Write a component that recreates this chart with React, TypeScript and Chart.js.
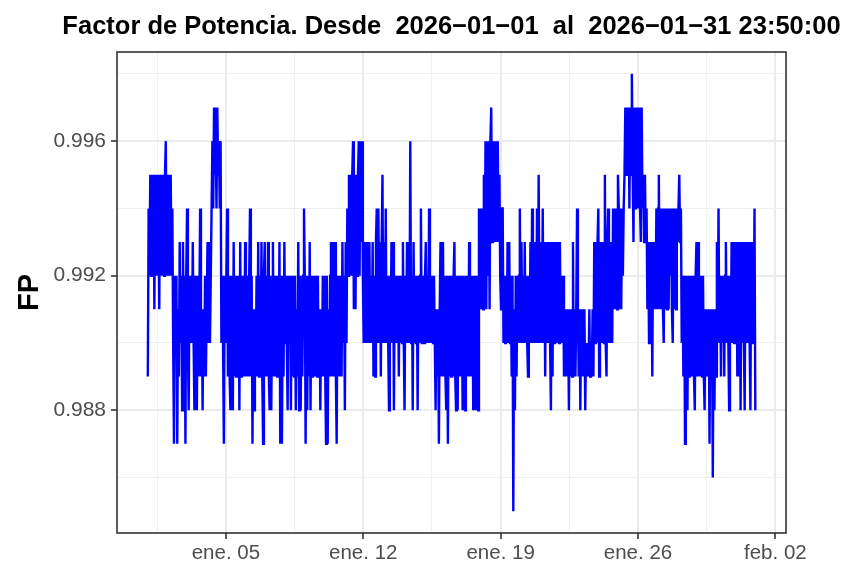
import React, { useEffect, useRef } from "react";
import { Chart, registerables } from "chart.js";

Chart.register(...registerables);

const titleText = "Factor de Potencia. Desde  2026\u221201\u221201  al  2026\u221201\u221231 23:50:00";
const yAxisTitle = "FP";
const rangeStart = "2026-01-01T00:00:00Z";
const rangeEnd = "2026-01-31T23:50:00Z";

// one sample per hour, taken at minute 30 (UTC)
const samplesPerDay = 24;
const sampleMinute = 30;

// FP values, 24 hourly samples per day (one row per day)
const week1 = [
  0.989, 0.994, 0.992, 0.995, 0.992, 0.995, 0.993, 0.995, 0.991, 0.995, 0.992, 0.994, 0.992, 0.995, 0.991, 0.995, 0.992, 0.995, 0.992, 0.995, 0.992, 0.995, 0.996, 0.992,
  0.995, 0.992, 0.995, 0.992, 0.995, 0.992, 0.994, 0.990, 0.987, 0.992, 0.990, 0.992, 0.987, 0.991, 0.989, 0.993, 0.990, 0.992, 0.988, 0.993, 0.990, 0.992, 0.987, 0.992,
  0.994, 0.990, 0.988, 0.992, 0.990, 0.992, 0.990, 0.993, 0.990, 0.988, 0.992, 0.990, 0.988, 0.992, 0.989, 0.991, 0.994, 0.989, 0.991, 0.988, 0.991, 0.989, 0.992, 0.989,
  0.991, 0.993, 0.990, 0.993, 0.990, 0.992, 0.994, 0.996, 0.994, 0.997, 0.995, 0.996, 0.994, 0.997, 0.995, 0.996, 0.994, 0.996, 0.990, 0.992, 0.990, 0.987, 0.992, 0.990,
  0.992, 0.994, 0.989, 0.992, 0.989, 0.988, 0.992, 0.989, 0.988, 0.993, 0.989, 0.992, 0.989, 0.992, 0.989, 0.992, 0.988, 0.993, 0.989, 0.992, 0.989, 0.992, 0.989, 0.993,
  0.992, 0.989, 0.992, 0.989, 0.992, 0.994, 0.989, 0.992, 0.987, 0.991, 0.988, 0.991, 0.989, 0.992, 0.989, 0.993, 0.989, 0.992, 0.989, 0.993, 0.989, 0.987, 0.992, 0.993,
  0.989, 0.992, 0.989, 0.993, 0.989, 0.988, 0.992, 0.988, 0.991, 0.993, 0.989, 0.992, 0.989, 0.992, 0.989, 0.992, 0.989, 0.993, 0.987, 0.992, 0.987, 0.991, 0.989, 0.993,
];
const week2 = [
  0.990, 0.992, 0.990, 0.988, 0.992, 0.990, 0.992, 0.988, 0.992, 0.989, 0.992, 0.989, 0.992, 0.988, 0.991, 0.989, 0.993, 0.988, 0.992, 0.988, 0.992, 0.989, 0.992, 0.994,
  0.992, 0.987, 0.992, 0.988, 0.992, 0.989, 0.993, 0.988, 0.992, 0.989, 0.992, 0.989, 0.992, 0.989, 0.992, 0.989, 0.992, 0.989, 0.991, 0.988, 0.991, 0.989, 0.992, 0.989,
  0.992, 0.989, 0.987, 0.992, 0.987, 0.991, 0.989, 0.992, 0.993, 0.989, 0.993, 0.989, 0.992, 0.993, 0.989, 0.987, 0.992, 0.989, 0.992, 0.989, 0.992, 0.989, 0.993, 0.990,
  0.992, 0.988, 0.993, 0.990, 0.994, 0.992, 0.995, 0.992, 0.995, 0.992, 0.995, 0.996, 0.991, 0.995, 0.991, 0.995, 0.992, 0.995, 0.996, 0.992, 0.996, 0.993, 0.996, 0.992,
  0.990, 0.993, 0.990, 0.993, 0.990, 0.992, 0.990, 0.993, 0.990, 0.992, 0.990, 0.993, 0.989, 0.992, 0.989, 0.993, 0.994, 0.990, 0.994, 0.990, 0.993, 0.989, 0.993, 0.995,
  0.990, 0.993, 0.990, 0.994, 0.990, 0.992, 0.990, 0.988, 0.992, 0.990, 0.993, 0.990, 0.993, 0.988, 0.992, 0.990, 0.992, 0.990, 0.992, 0.989, 0.992, 0.990, 0.992, 0.990,
  0.993, 0.990, 0.988, 0.992, 0.990, 0.993, 0.990, 0.992, 0.990, 0.996, 0.990, 0.992, 0.988, 0.993, 0.990, 0.992, 0.990, 0.992, 0.988, 0.992, 0.990, 0.992, 0.994, 0.990,
];
const week3 = [
  0.990, 0.992, 0.990, 0.992, 0.993, 0.990, 0.992, 0.990, 0.994, 0.990, 0.992, 0.990, 0.992, 0.990, 0.992, 0.990, 0.988, 0.991, 0.989, 0.991, 0.987, 0.991, 0.993, 0.989,
  0.991, 0.993, 0.989, 0.992, 0.989, 0.988, 0.992, 0.987, 0.992, 0.989, 0.992, 0.989, 0.992, 0.989, 0.992, 0.993, 0.989, 0.988, 0.992, 0.988, 0.992, 0.989, 0.992, 0.989,
  0.992, 0.988, 0.992, 0.989, 0.988, 0.992, 0.989, 0.992, 0.989, 0.993, 0.989, 0.992, 0.989, 0.992, 0.988, 0.992, 0.989, 0.988, 0.992, 0.989, 0.988, 0.994, 0.991, 0.994,
  0.991, 0.994, 0.991, 0.995, 0.992, 0.996, 0.991, 0.996, 0.992, 0.996, 0.991, 0.996, 0.997, 0.993, 0.996, 0.993, 0.996, 0.993, 0.996, 0.993, 0.996, 0.993, 0.995, 0.992,
  0.991, 0.994, 0.994, 0.990, 0.992, 0.990, 0.992, 0.990, 0.993, 0.990, 0.993, 0.990, 0.992, 0.989, 0.992, 0.985, 0.991, 0.988, 0.992, 0.989, 0.992, 0.990, 0.992, 0.994,
  0.990, 0.993, 0.990, 0.992, 0.990, 0.993, 0.990, 0.992, 0.990, 0.989, 0.992, 0.990, 0.993, 0.990, 0.994, 0.990, 0.992, 0.990, 0.993, 0.990, 0.994, 0.990, 0.995, 0.991,
  0.990, 0.993, 0.990, 0.994, 0.990, 0.993, 0.989, 0.993, 0.990, 0.993, 0.990, 0.993, 0.990, 0.988, 0.993, 0.989, 0.993, 0.990, 0.993, 0.990, 0.993, 0.990, 0.993, 0.990,
];
const week4 = [
  0.993, 0.990, 0.992, 0.990, 0.992, 0.989, 0.991, 0.989, 0.991, 0.989, 0.991, 0.988, 0.991, 0.989, 0.991, 0.989, 0.993, 0.989, 0.991, 0.989, 0.991, 0.994, 0.991, 0.989,
  0.991, 0.988, 0.991, 0.989, 0.991, 0.989, 0.991, 0.988, 0.990, 0.989, 0.990, 0.989, 0.991, 0.989, 0.990, 0.989, 0.991, 0.989, 0.993, 0.990, 0.993, 0.990, 0.993, 0.994,
  0.989, 0.993, 0.990, 0.993, 0.990, 0.993, 0.990, 0.995, 0.990, 0.989, 0.993, 0.994, 0.990, 0.993, 0.990, 0.993, 0.990, 0.994, 0.991, 0.993, 0.991, 0.994, 0.991, 0.995,
  0.994, 0.991, 0.994, 0.991, 0.994, 0.992, 0.994, 0.995, 0.997, 0.995, 0.997, 0.995, 0.997, 0.994, 0.997, 0.995, 0.998, 0.995, 0.993, 0.997, 0.994, 0.997, 0.994, 0.997,
  0.994, 0.997, 0.994, 0.993, 0.997, 0.994, 0.995, 0.993, 0.995, 0.993, 0.994, 0.991, 0.993, 0.990, 0.993, 0.991, 0.993, 0.989, 0.993, 0.991, 0.993, 0.991, 0.994, 0.991,
  0.994, 0.995, 0.991, 0.994, 0.991, 0.994, 0.991, 0.990, 0.994, 0.991, 0.994, 0.991, 0.994, 0.991, 0.994, 0.992, 0.994, 0.991, 0.990, 0.994, 0.991, 0.994, 0.991, 0.994,
  0.993, 0.994, 0.995, 0.993, 0.994, 0.990, 0.992, 0.989, 0.992, 0.987, 0.992, 0.989, 0.988, 0.992, 0.989, 0.992, 0.989, 0.992, 0.989, 0.992, 0.989, 0.988, 0.992, 0.993,
];
const week5 = [
  0.989, 0.993, 0.989, 0.992, 0.989, 0.992, 0.989, 0.992, 0.989, 0.988, 0.991, 0.989, 0.991, 0.989, 0.991, 0.987, 0.991, 0.989, 0.991, 0.986, 0.991, 0.988, 0.991, 0.989,
  0.993, 0.990, 0.994, 0.990, 0.992, 0.989, 0.992, 0.990, 0.992, 0.989, 0.992, 0.993, 0.990, 0.992, 0.990, 0.988, 0.992, 0.990, 0.993, 0.990, 0.993, 0.990, 0.993, 0.990,
  0.993, 0.989, 0.993, 0.989, 0.993, 0.988, 0.993, 0.990, 0.993, 0.990, 0.988, 0.993, 0.990, 0.993, 0.990, 0.993, 0.990, 0.988, 0.993, 0.990, 0.993, 0.990, 0.994, 0.988,
];

const yMajorTicks = [0.988, 0.992, 0.996];
const yMajorLabels = ["0.988", "0.992", "0.996"];
const yMinorTicks = [0.986, 0.99, 0.994, 0.998];

const xMajorDates = [
  "2026-01-05T00:00:00Z",
  "2026-01-12T00:00:00Z",
  "2026-01-19T00:00:00Z",
  "2026-01-26T00:00:00Z",
  "2026-02-02T00:00:00Z",
];
const xMajorLabels = ["ene. 05", "ene. 12", "ene. 19", "ene. 26", "feb. 02"];
const xMinorDates = [
  "2026-01-01T12:00:00Z",
  "2026-01-08T12:00:00Z",
  "2026-01-15T12:00:00Z",
  "2026-01-22T12:00:00Z",
  "2026-01-29T12:00:00Z",
];

const FONT = "'Liberation Sans', Arial, Helvetica, sans-serif";

export default function App() {
  const canvasRef = useRef<HTMLCanvasElement | null>(null);

  useEffect(() => {
    if (!canvasRef.current) return;
    const values = [...week1, ...week2, ...week3, ...week4, ...week5];
    const points = values.map((v, k) => ({
      x: Date.UTC(2026, 0, 1 + Math.floor(k / samplesPerDay), k % samplesPerDay, sampleMinute),
      y: v,
    }));

    const t0 = Date.parse(rangeStart);
    const t1 = Date.parse(rangeEnd);
    const xPad = (t1 - t0) * 0.05;
    const vMin = Math.min(...values);
    const vMax = Math.max(...values);
    const yPad = (vMax - vMin) * 0.05;

    const xMajor = xMajorDates.map((d) => Date.parse(d));
    const xMinor = xMinorDates.map((d) => Date.parse(d));
    const xTicks = [...xMinor, ...xMajor].sort((a, b) => a - b);
    const yTicks = [...yMinorTicks, ...yMajorTicks].sort((a, b) => a - b);

    const isXMajor = (v: number) => xMajor.some((m) => Math.abs(m - v) < 1000);
    const isYMajor = (v: number) => yMajorTicks.some((m) => Math.abs(m - v) < 1e-7);

    const gridColor = "#EBEBEB";

    const panelPlugin = {
      id: "panelDecor",
      afterDraw(chart: any) {
        const { ctx, chartArea } = chart;
        ctx.save();
        ctx.strokeStyle = "#333333";
        ctx.lineWidth = 1.6;
        ctx.strokeRect(chartArea.left, chartArea.top, chartArea.right - chartArea.left, chartArea.bottom - chartArea.top);
        ctx.font = `bold 25.5px ${FONT}`;
        ctx.fillStyle = "#000000";
        ctx.textAlign = "center";
        ctx.textBaseline = "alphabetic";
        ctx.fillText(titleText, (chartArea.left + chartArea.right) / 2, 34);
        ctx.restore();
      },
    };

    const chart = new Chart(canvasRef.current, {
      type: "line",
      data: {
        datasets: [
          {
            data: points,
            borderColor: "#0000FF",
            borderWidth: 2.4,
            borderJoinStyle: "miter",
            borderCapStyle: "butt",
            pointRadius: 0,
            tension: 0,
            fill: false,
          },
        ],
      },
      options: {
        animation: false,
        responsive: true,
        maintainAspectRatio: false,
        layout: { padding: { top: 52, right: 57, left: 0, bottom: 0 } },
        plugins: {
          legend: { display: false },
          tooltip: { enabled: false },
          title: { display: false },
        },
        scales: {
          x: {
            type: "linear",
            min: t0 - xPad,
            max: t1 + xPad,
            afterBuildTicks: (s: any) => {
              s.ticks = xTicks.map((v) => ({ value: v }));
            },
            afterFit: (s: any) => {
              s.height = 35;
            },
            ticks: {
              autoSkip: false,
              maxRotation: 0,
              minRotation: 0,
              padding: 2,
              color: "#4D4D4D",
              font: { family: FONT, size: 20.5 },
              callback: (v: any) => {
                const i = xMajor.findIndex((m) => Math.abs(m - Number(v)) < 1000);
                return i >= 0 ? xMajorLabels[i] : "";
              },
            },
            grid: {
              color: (c: any) => (c.tick && isXMajor(c.tick.value) ? gridColor : "#F0F0F0"),
              lineWidth: (c: any) => (c.tick && isXMajor(c.tick.value) ? 2 : 1),
              tickColor: (c: any) => (c.tick && isXMajor(c.tick.value) ? "#333333" : "rgba(0,0,0,0)"),
              tickWidth: 1.6,
              tickLength: 6,
              drawTicks: true,
            },
            border: { display: false },
          },
          y: {
            type: "linear",
            min: vMin - yPad,
            max: vMax + yPad,
            afterBuildTicks: (s: any) => {
              s.ticks = yTicks.map((v) => ({ value: v }));
            },
            afterFit: (s: any) => {
              s.width = 117;
            },
            ticks: {
              autoSkip: false,
              padding: 5,
              color: "#4D4D4D",
              font: { family: FONT, size: 21 },
              callback: (v: any) => {
                const i = yMajorTicks.findIndex((m) => Math.abs(m - Number(v)) < 1e-7);
                return i >= 0 ? yMajorLabels[i] : "";
              },
            },
            title: {
              display: true,
              text: yAxisTitle,
              color: "#000000",
              font: { family: FONT, size: 29, weight: "bold" },
              padding: { top: 13, bottom: 0 },
            },
            grid: {
              color: (c: any) => (c.tick && isYMajor(c.tick.value) ? gridColor : "#F0F0F0"),
              lineWidth: (c: any) => (c.tick && isYMajor(c.tick.value) ? 2 : 1),
              tickColor: (c: any) => (c.tick && isYMajor(c.tick.value) ? "#333333" : "rgba(0,0,0,0)"),
              tickWidth: 1.6,
              tickLength: 6,
              drawTicks: true,
            },
            border: { display: false },
          },
        },
      },
      plugins: [panelPlugin],
    } as any);

    return () => chart.destroy();
  }, []);

  return (
    <div style={{ position: "absolute", left: 0, top: 0, width: 843, height: 568, background: "#ffffff" }}>
      <canvas ref={canvasRef} />
    </div>
  );
}
